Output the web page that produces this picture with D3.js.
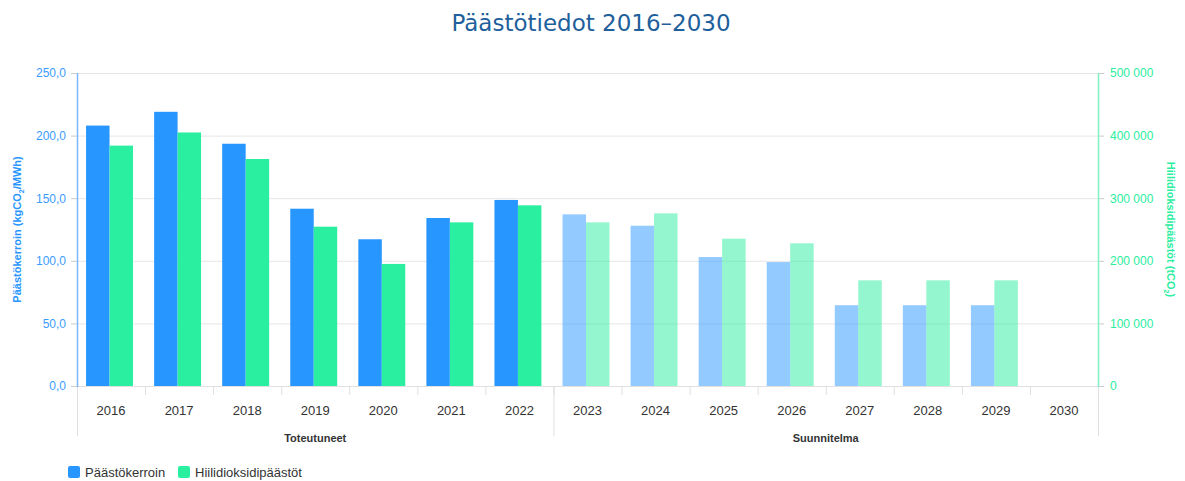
<html>

<head>
    <title>Päästötiedot</title>
    <script src='https://d3js.org/d3.v7.min.js'></script>
    <style>
        body {
            margin: 0;
            background: #fff;
        }

        text {
            font-family: "Liberation Sans", Arial, sans-serif;
        }
    </style>
</head>

<body>
    <svg id="chart"></svg>
    <script>
        var years = ['2016', '2017', '2018', '2019', '2020', '2021', '2022', '2023', '2024', '2025', '2026', '2027', '2028', '2029', '2030'];
        var kerroin = [208, 219, 193.5, 141.6, 117.2, 134.2, 148.6, 137.1, 128, 103, 99, 64.5, 64.5, 64.5, null];
        var paastot = [384000, 405000, 362600, 254500, 195000, 261400, 288600, 261400, 275800, 235300, 228000, 168800, 168800, 168800, null];
        var planned = [false, false, false, false, false, false, false, true, true, true, true, true, true, true, true];
        var groups = [
            { name: 'Toteutuneet', from: '2016', to: '2022' },
            { name: 'Suunnitelma', from: '2023', to: '2030' }
        ];
        var leftTicks = [0, 50, 100, 150, 200, 250];
        var rightTicks = [0, 100000, 200000, 300000, 400000, 500000];

        var W = 1185, H = 481;
        var pL = 77, pR = 1098, pT = 73, pB = 386;
        var blue = '#2896ff', green = '#2aeea0';

        var svg = d3.select('#chart').attr('width', W).attr('height', H);

        var x = d3.scaleBand().domain(years).range([pL, pR]).paddingInner(0).paddingOuter(0);
        var x1 = d3.scaleBand().domain(['k', 'p']).range([-1.5, x.bandwidth() - 1.5]).paddingInner(0).paddingOuter(0.45);
        var yL = d3.scaleLinear().domain([0, 250]).range([pB, pT]);
        var yR = d3.scaleLinear().domain([0, 500000]).range([pB, pT]);

        // title
        svg.append('text').attr('x', 591).attr('y', 31).attr('text-anchor', 'middle')
            .style('font-family', '"DejaVu Sans", Verdana, sans-serif')
            .style('font-size', '23px').attr('fill', '#1f5f9c')
            .text('Päästötiedot 2016–2030');

        // gridlines
        svg.append('g').selectAll('line').data(leftTicks).enter().append('line')
            .attr('x1', pL).attr('x2', pR)
            .attr('y1', function (d) { return yL(d) + 0.5; }).attr('y2', function (d) { return yL(d) + 0.5; })
            .attr('stroke', '#e6e6e6').attr('stroke-width', 1);

        // bars
        var data = years.map(function (y, i) { return { year: y, k: kerroin[i], p: paastot[i], plan: planned[i] }; });
        var bars = svg.append('g');
        bars.selectAll('.bk').data(data.filter(function (d) { return d.k != null; })).enter().append('rect')
            .attr('x', function (d) { return x(d.year) + x1('k'); })
            .attr('width', x1.bandwidth())
            .attr('y', function (d) { return yL(d.k); })
            .attr('height', function (d) { return pB - yL(d.k); })
            .attr('fill', blue).attr('fill-opacity', function (d) { return d.plan ? 0.5 : 1; });
        bars.selectAll('.bp').data(data.filter(function (d) { return d.p != null; })).enter().append('rect')
            .attr('x', function (d) { return x(d.year) + x1('p'); })
            .attr('width', x1.bandwidth())
            .attr('y', function (d) { return yR(d.p); })
            .attr('height', function (d) { return pB - yR(d.p); })
            .attr('fill', green).attr('fill-opacity', function (d) { return d.plan ? 0.5 : 1; });

        // x axis
        var xa = svg.append('g');
        xa.append('line').attr('x1', pL).attr('x2', pR).attr('y1', pB + 0.5).attr('y2', pB + 0.5)
            .attr('stroke', '#e0e0e0');
        xa.selectAll('.sep').data(years.slice(1)).enter().append('line')
            .attr('x1', function (d) { return x(d) + 0.5; }).attr('x2', function (d) { return x(d) + 0.5; })
            .attr('y1', pB).attr('y2', pB + 9).attr('stroke', '#e0e0e0');
        xa.selectAll('.lab').data(years).enter().append('text')
            .attr('x', function (d) { return x(d) + x.bandwidth() / 2; })
            .attr('y', 415).attr('text-anchor', 'middle')
            .style('font-size', '13px').attr('fill', '#333').text(function (d) { return d; });
        var gEdges = [pL, x(groups[1].from), pR];
        xa.selectAll('.gsep').data(gEdges).enter().append('line')
            .attr('x1', function (d) { return d + 0.5; }).attr('x2', function (d) { return d + 0.5; })
            .attr('y1', pB).attr('y2', 436).attr('stroke', '#e0e0e0');
        xa.selectAll('.glab').data(groups).enter().append('text')
            .attr('x', function (d) { return (x(d.from) + x(d.to) + x.bandwidth()) / 2; })
            .attr('y', 442).attr('text-anchor', 'middle')
            .style('font-size', '11px').style('font-weight', 'bold').attr('fill', '#333')
            .text(function (d) { return d.name; });

        // left axis
        var fmtL = function (d) { return d3.format('.1f')(d).replace('.', ','); };
        var la = svg.append('g').attr('transform', 'translate(' + pL + ',0)')
            .call(d3.axisLeft(yL).tickValues(leftTicks).tickFormat(fmtL).tickSize(6).tickPadding(5));
        la.select('.domain').remove();
        la.selectAll('.tick line').attr('stroke', '#ccc');
        la.selectAll('.tick text').attr('fill', '#3a9cff').style('font-size', '12px').style('font-family', '"Liberation Sans", Arial, sans-serif');
        svg.append('line').attr('x1', pL + 0.5).attr('x2', pL + 0.5).attr('y1', pT).attr('y2', pB + 1)
            .attr('stroke', '#7ab8ff').attr('stroke-width', 1.5);
        var lt = svg.append('text').attr('transform', 'translate(21,' + ((pT + pB) / 2) + ') rotate(-90)')
            .attr('text-anchor', 'middle').style('font-size', '11px').style('font-weight', 'bold').attr('fill', '#2896ff');
        lt.append('tspan').text('Päästökerroin (kgCO');
        lt.append('tspan').attr('dy', 3).style('font-size', '7px').text('2');
        lt.append('tspan').attr('dy', -3).text('/MWh)');

        // right axis
        var fmtR = function (d) { return d3.format(',')(d).replace(/,/g, ' '); };
        var ra = svg.append('g').attr('transform', 'translate(' + pR + ',0)')
            .call(d3.axisRight(yR).tickValues(rightTicks).tickFormat(fmtR).tickSize(6).tickPadding(6));
        ra.select('.domain').remove();
        ra.selectAll('.tick line').attr('stroke', '#ccc');
        ra.selectAll('.tick text').attr('fill', '#2aeea0').style('font-size', '12px').style('font-family', '"Liberation Sans", Arial, sans-serif');
        svg.append('line').attr('x1', pR + 0.5).attr('x2', pR + 0.5).attr('y1', pT).attr('y2', pB + 1)
            .attr('stroke', '#7ff2c4').attr('stroke-width', 1.5);
        var rt = svg.append('text').attr('transform', 'translate(1167,' + ((pT + pB) / 2) + ') rotate(90)')
            .attr('text-anchor', 'middle').style('font-size', '11px').style('font-weight', 'bold').attr('fill', '#2aeea0');
        rt.append('tspan').text('Hiilidioksidipäästöt (tCO');
        rt.append('tspan').attr('dy', 3).style('font-size', '7px').text('2');
        rt.append('tspan').attr('dy', -3).text(')');

        // legend
        var legend = [{ name: 'Päästökerroin', color: blue }, { name: 'Hiilidioksidipäästöt', color: green }];
        var lg = svg.append('g').selectAll('g').data(legend).enter().append('g')
            .attr('transform', function (d, i) { return 'translate(' + (68 + i * 110) + ',466)'; });
        lg.append('rect').attr('width', 12).attr('height', 12).attr('rx', 2).attr('fill', function (d) { return d.color; });
        lg.append('text').attr('x', 17).attr('y', 11).style('font-size', '13px').attr('fill', '#333')
            .text(function (d) { return d.name; });
    </script>
</body>

</html>
